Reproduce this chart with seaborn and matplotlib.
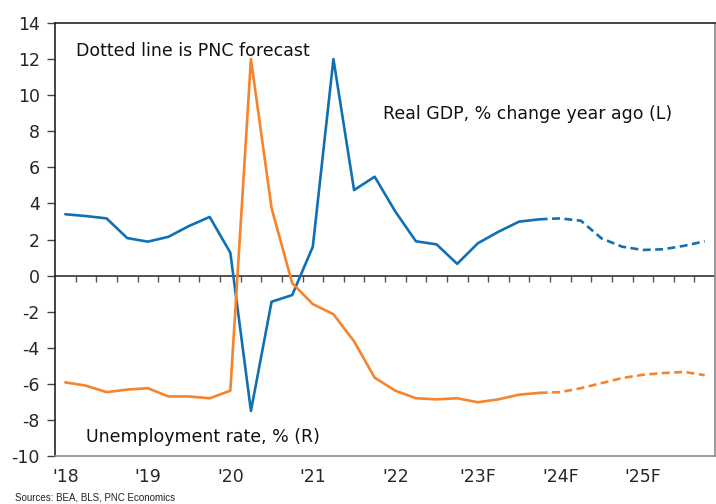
import numpy as np
import pandas as pd
import matplotlib
matplotlib.use("Agg")
import matplotlib.pyplot as plt
import seaborn as sns

# ---- data ----
quarters = [f"{y}Q{q}" for y in range(2018, 2026) for q in range(1, 5)]
year_labels = ["'18", "'19", "'20", "'21", "'22", "'23F", "'24F", "'25F"]
gdp_yoy = [3.4, 3.3, 3.17, 2.08, 1.88, 2.15, 2.75, 3.25,
           1.27, -7.5, -1.45, -1.08, 1.6, 12.0, 4.74, 5.48,
           3.55, 1.9, 1.73, 0.65, 1.79, 2.43, 2.99, 3.12,
           3.17, 3.04, 2.06, 1.6, 1.42, 1.46, 1.65, 1.9]
unemp_rate = [4.04, 3.95, 3.77, 3.84, 3.88, 3.65, 3.65, 3.6,
              3.81, 13.0, 8.87, 6.79, 6.21, 5.93, 5.18, 4.17,
              3.81, 3.6, 3.57, 3.6, 3.49, 3.57, 3.7, 3.75,
              3.77, 3.88, 4.02, 4.16, 4.25, 4.3, 4.33, 4.24]
forecast_start = 23  # last actual quarter index (2023Q4)

BLUE = "#1170B4"
ORANGE = "#F7832B"

sns.set_style("white")
plt.rcParams["font.family"] = ["DejaVu Sans"]
plt.rcParams["axes.unicode_minus"] = False

df = pd.DataFrame({"i": np.arange(len(quarters)), "gdp": gdp_yoy, "unemp": unemp_rate})
act = df[df.i <= forecast_start]
fc = df[df.i >= forecast_start]

fig = plt.figure(figsize=(7.16, 5.04), dpi=100)
ax = fig.add_axes([55 / 716, 1 - 456 / 504, 660 / 716, 433 / 504])
ax2 = ax.twinx()

lw = 1.9
sns.lineplot(data=act, x="i", y="gdp", ax=ax, color=BLUE, lw=lw)
sns.lineplot(data=fc, x="i", y="gdp", ax=ax, color=BLUE, lw=lw)
ax.lines[-1].set_dashes((3.0, 1.7))
sns.lineplot(data=act, x="i", y="unemp", ax=ax2, color=ORANGE, lw=lw)
sns.lineplot(data=fc, x="i", y="unemp", ax=ax2, color=ORANGE, lw=lw)
ax2.lines[-1].set_dashes((3.0, 1.7))

ax.set_xlim(-0.5, len(quarters) - 0.5)
ax.set_ylim(-10, 14)
ax2.set_ylim(2, 14)
ax.set_yticks(np.arange(-10, 15, 2))
ax.set_xticks(np.arange(0, len(quarters), 4))
ax.set_xticklabels(year_labels)
ax.set_xlabel("")
ax.set_ylabel("")
ax2.set_ylabel("")
ax2.set_yticks([])
ax.tick_params(axis="y", length=6, width=1, color="#444444", pad=5, labelsize=12.5, left=True)
ax.tick_params(axis="x", length=0, pad=9, labelsize=12.5)

for s in ["top", "left"]:
    ax.spines[s].set_color("#222222")
    ax.spines[s].set_linewidth(1.2)
for s in ["bottom", "right"]:
    ax.spines[s].set_color("#8a8a8a")
    ax.spines[s].set_linewidth(1.2)
for s in ax2.spines.values():
    s.set_visible(False)

# zero axis with category-boundary ticks
zero_frac = (0 - (-10)) / (14 - (-10))
sec = ax.secondary_xaxis(zero_frac)
sec.set_xticks(np.arange(0.5, len(quarters) - 1, 1.0))
sec.set_xticklabels([])
sec.tick_params(axis="x", direction="out", length=4, width=1, color="#555555")
sec.spines["bottom"].set_color("#333333")
sec.spines["bottom"].set_linewidth(1.2)

ax.text(0.032, 0.935, "Dotted line is PNC forecast", transform=ax.transAxes,
        fontsize=12.5, va="center", ha="left", color="#111111")
ax.text(0.497, 0.79, "Real GDP, % change year ago (L)", transform=ax.transAxes,
        fontsize=12.5, va="center", ha="left", color="#111111")
ax.text(0.047, 0.045, "Unemployment rate, % (R)", transform=ax.transAxes,
        fontsize=12.5, va="center", ha="left", color="#111111")
fig.text(15 / 716, 1 - 497 / 504, "Sources: BEA, BLS, PNC Economics",
         fontsize=7, family="Liberation Sans", va="center", ha="left", color="#222222")

fig.savefig("out.png", dpi=100)
